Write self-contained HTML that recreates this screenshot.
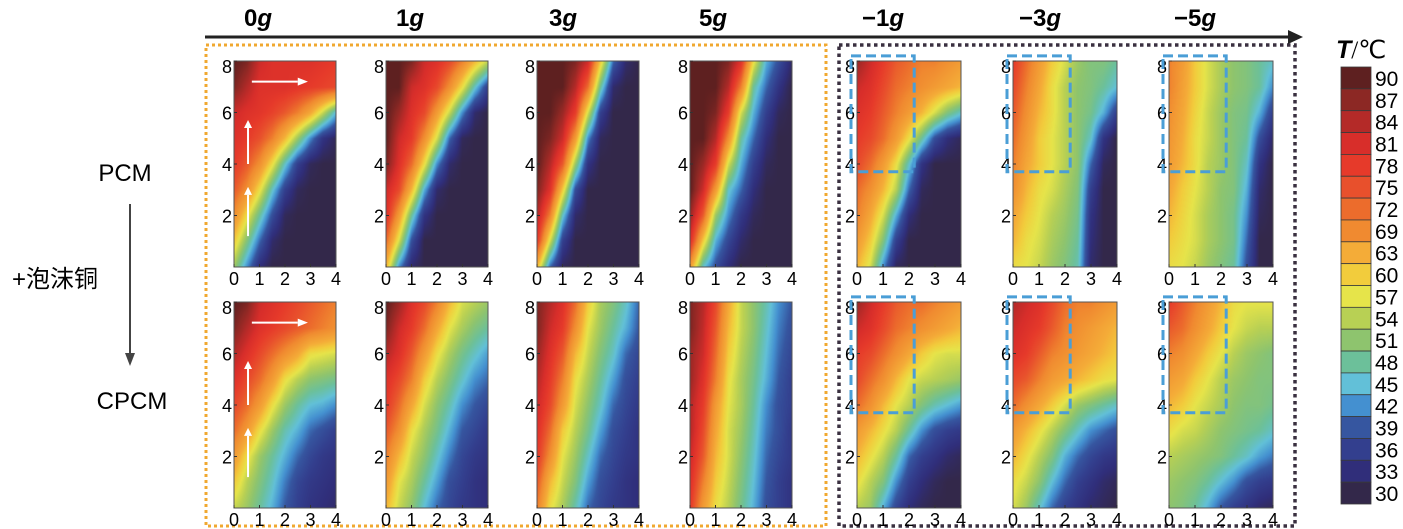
<!DOCTYPE html>
<html><head><meta charset="utf-8">
<style>
html,body{margin:0;padding:0;background:#fff;}
#root{position:relative;width:1403px;height:529px;overflow:hidden;background:#fff;font-family:"Liberation Sans","Noto Sans CJK SC",sans-serif;}
canvas{position:absolute;}
svg{position:absolute;left:0;top:0;}
</style></head>
<body>
<div id="root">
<svg id="ov" width="1403" height="529"></svg>
</div>
<script>
// ---- data ----
const colLabels=['0','1','3','5','\u22121','\u22123','\u22125'];
const xTicks=[0,1,2,3,4];
const yTicks=[2,4,6,8];
const cbLabels=[90,87,84,81,78,75,72,69,63,60,57,54,51,48,45,42,39,36,33,30];
const cmapT=[30,33,36,39,42,45,48,51,54,57,60,63,69,72,75,78,81,84,87,90];
const cmapC=['#33284a','#302e7a','#333f8e','#3656a0','#4490d0','#62c0d8','#6cc09a','#8ec46e','#b8d054','#e6e44a','#f2cc3c','#f4ac38','#f08a30','#ec6c2c','#e8502c','#e63a2a','#d82e2a','#b42a28','#8c2824','#5e2020'];
// grids: rows y=8..0 (top to bottom), cols x=0..4 step 0.5
const pcm0g=[
[90,88,82,80,80,80,80,79,78],[88,84,80,80,80,79,78,77,76],[82,80,79,77,74,70,64,55,45],
[80,78,75,70,62,52,42,34,31],[78,74,68,58,46,36,31,30,30],[74,68,58,46,36,31,30,30,30],
[68,58,48,38,31,30,30,30,30],[60,50,40,32,30,30,30,30,30],[52,42,33,30,30,30,30,30,30]];
const pcm1g=[
[90,90,88,82,80,76,70,62,55],[90,90,82,80,76,68,58,46,36],[90,86,80,76,66,55,42,32,30],
[90,82,78,68,56,40,31,30,30],[88,80,72,58,42,32,30,30,30],[82,76,62,44,32,30,30,30,30],
[80,66,48,34,30,30,30,30,30],[72,56,38,30,30,30,30,30,30],[62,42,32,30,30,30,30,30,30]];
const pcm3g=[
[90,90,90,88,82,60,40,32,30],[90,90,90,84,72,48,32,30,30],[90,90,86,78,56,36,30,30,30],
[90,88,82,66,42,31,30,30,30],[90,84,74,52,34,30,30,30,30],[88,80,60,38,30,30,30,30,30],
[84,70,46,32,30,30,30,30,30],[78,56,36,30,30,30,30,30,30],[62,40,31,30,30,30,30,30,30]];
const pcm5g=[
[90,90,90,88,80,58,44,38,32],[90,90,90,84,70,48,40,34,30],[90,90,88,78,56,44,36,31,30],
[90,90,84,68,48,40,33,30,30],[90,86,78,56,44,36,31,30,30],[90,82,66,46,40,33,30,30,30],
[86,74,52,42,35,31,30,30,30],[80,60,44,37,32,30,30,30,30],[66,46,38,33,30,30,30,30,30]];
const pcmN1g=[
[86,82,78,74,72,70,70,68,66],[82,80,76,72,70,68,66,64,62],[80,78,74,70,66,62,56,50,46],
[78,76,72,66,58,48,38,33,31],[76,72,66,58,46,34,30,30,30],[72,68,62,54,40,31,30,30,30],
[70,64,56,44,33,30,30,30,30],[66,60,50,36,30,30,30,30,30],[62,56,42,31,30,30,30,30,30]];
const pcmN3g=[
[78,72,66,60,56,52,50,50,48],[76,70,64,58,54,51,50,48,45],[74,68,62,58,54,51,49,44,36],
[72,66,60,57,54,51,46,34,30],[70,64,60,57,54,51,40,31,30],[68,62,58,56,53,50,36,30,30],
[64,60,57,54,52,49,34,30,30],[62,58,56,53,51,48,33,30,30],[58,57,55,52,50,47,32,30,30]];
const pcmN5g=[
[70,66,60,56,53,51,50,48,46],[70,65,60,56,53,51,50,48,42],[68,64,59,55,52,50,49,44,36],
[67,63,58,55,52,50,48,38,32],[66,62,58,54,52,50,46,34,30],[64,60,57,54,51,50,44,32,30],
[62,59,56,53,51,49,42,31,30],[60,58,56,53,51,49,40,30,30],[58,57,55,52,50,48,38,30,30]];
const cpcm0g=[
[90,88,82,80,78,76,74,72,70],[88,84,80,78,76,74,72,70,68],[84,80,76,72,68,64,58,57,56],
[80,76,72,66,58,54,51,50,49],[76,72,66,58,52,48,45,44,42],[72,66,58,52,47,44,40,38,36],
[66,58,52,48,44,40,37,35,34],[60,54,50,46,41,37,35,34,33],[55,52,48,44,39,36,34,33,32]];
const cpcm1g=[
[90,86,80,76,70,62,56,54,52],[88,82,78,72,64,57,53,50,48],[84,80,74,66,58,53,49,46,43],
[80,76,70,60,54,50,46,42,40],[78,72,64,56,51,47,42,39,37],[74,68,58,53,49,44,39,37,35],
[70,62,55,51,46,41,37,35,34],[66,57,53,48,43,38,36,34,33],[62,55,51,45,40,37,35,34,33]];
const cpcm3g=[
[88,84,80,72,60,53,50,46,40],[88,82,78,68,57,52,48,44,39],[86,80,74,62,55,50,46,40,37],
[84,78,70,58,53,48,43,38,36],[82,76,66,56,51,46,40,37,35],[80,72,60,54,49,43,38,36,34],
[78,68,57,52,46,40,37,35,34],[74,62,55,50,43,38,36,34,33],[70,58,53,47,40,37,35,34,33]];
const cpcm5g=[
[88,84,76,64,55,51,47,42,39],[88,83,74,62,55,51,46,41,38],[86,82,72,60,54,50,45,40,37],
[86,80,70,58,53,49,44,39,36],[84,78,66,57,53,48,42,38,36],[84,76,64,56,52,47,41,38,35],
[82,74,62,56,51,46,40,37,35],[80,70,60,55,50,45,39,36,34],[78,66,58,54,49,44,38,36,34]];
const cpcmN1g=[
[86,82,78,74,72,72,70,68,66],[82,80,76,72,70,68,66,64,62],[78,76,72,68,64,60,57,56,56],
[76,72,68,62,57,55,54,53,52],[72,68,62,57,54,50,47,45,43],[66,62,58,54,48,42,38,36,35],
[62,58,54,48,40,36,34,32,31],[58,54,50,42,36,33,31,30,30],[54,52,44,37,33,31,30,30,30]];
const cpcmN3g=[
[84,82,80,76,72,70,70,68,66],[82,80,78,74,70,68,66,64,62],[80,78,74,70,68,66,64,62,60],
[76,74,70,66,64,62,60,58,57],[72,68,64,60,56,52,50,48,46],[66,62,58,54,50,46,42,40,38],
[62,58,54,50,44,40,37,35,34],[58,55,51,45,40,36,34,32,31],[56,52,46,40,36,34,32,31,30]];
const cpcmN5g=[
[78,74,70,66,62,58,57,57,57],[74,72,68,64,60,57,55,54,54],[70,68,64,60,57,54,52,51,50],
[66,64,60,57,54,52,51,50,50],[62,60,57,55,53,51,50,50,49],[58,56,55,53,51,50,49,48,46],
[54,53,52,51,50,48,46,43,41],[52,51,50,48,45,42,38,36,35],[51,50,48,44,39,36,34,32,31]];
const topRow=[pcm0g,pcm1g,pcm3g,pcm5g,pcmN1g,pcmN3g,pcmN5g];
const botRow=[cpcm0g,cpcm1g,cpcm3g,cpcm5g,cpcmN1g,cpcmN3g,cpcmN5g];

// ---- layout ----
const lefts=[234,386,537,690,857,1013,1169];
const widths=[102,102,102,102,104,104,104];
const tops=[61,302];
const PH=206;
const titleX=[258,410,563,713,883,1040,1195];

function hex(c){return [parseInt(c.slice(1,3),16),parseInt(c.slice(3,5),16),parseInt(c.slice(5,7),16)];}
const cmapRGB=cmapC.map(hex);
function cmap(t){
  if(t<=cmapT[0])return cmapRGB[0];
  for(let i=1;i<cmapT.length;i++){
    if(t<=cmapT[i]){const f=(t-cmapT[i-1])/(cmapT[i]-cmapT[i-1]);const a=cmapRGB[i-1],b=cmapRGB[i];
      return [a[0]+(b[0]-a[0])*f,a[1]+(b[1]-a[1])*f,a[2]+(b[2]-a[2])*f];}
  }
  return cmapRGB[cmapRGB.length-1];
}
const root=document.getElementById('root');
const ov=document.getElementById('ov');
const NS='http://www.w3.org/2000/svg';
function S(tag,attrs,name,txt){const e=document.createElementNS(NS,tag);for(const k in attrs)e.setAttribute(k,attrs[k]);
  
  
  if(txt!==undefined)e.textContent=txt;ov.appendChild(e);return e;}

function drawPanel(grid,left,top,W,H,name){
  const c=document.createElement('canvas');c.width=W;c.height=H;
  c.style.left=left+'px';c.style.top=top+'px';
  
  
  root.insertBefore(c,ov);
  const ctx=c.getContext('2d');const img=ctx.createImageData(W,H);
  const nr=grid.length,nc=grid[0].length;
  for(let py=0;py<H;py++){
    const gy=py/(H-1)*(nr-1);const r0=Math.min(nr-2,Math.floor(gy));const fy=gy-r0;
    for(let px=0;px<W;px++){
      const gx=px/(W-1)*(nc-1);const c0=Math.min(nc-2,Math.floor(gx));const fx=gx-c0;
      const v=(grid[r0][c0]*(1-fx)+grid[r0][c0+1]*fx)*(1-fy)+(grid[r0+1][c0]*(1-fx)+grid[r0+1][c0+1]*fx)*fy;
      const col=cmap(v);const i=(py*W+px)*4;
      img.data[i]=col[0];img.data[i+1]=col[1];img.data[i+2]=col[2];img.data[i+3]=255;
    }
  }
  ctx.putImageData(img,0,0);
}

// boxes
S('rect',{x:206,y:45,width:620,height:481,fill:'none',stroke:'#f0a830','stroke-width':3,'stroke-dasharray':'3 3'},'orange-group-box');
S('rect',{x:839,y:45,width:456,height:481,fill:'none',stroke:'#3a3040','stroke-width':3.5,'stroke-dasharray':'3.5 3.5'},'dark-group-box');
// top arrow
S('line',{x1:205,y1:37,x2:1290,y2:37,stroke:'#222','stroke-width':3},'gravity-axis-line');
S('polygon',{points:'1288,30 1303,37 1288,44',fill:'#222'},'gravity-axis-arrowhead');

for(let k=0;k<7;k++){
  const W=widths[k],L=lefts[k];
  const t=S('text',{x:titleX[k],y:26,'font-size':24,'font-weight':'bold','text-anchor':'middle','font-family':'Liberation Sans'},'column-title-'+k);
  t.textContent=colLabels[k];
  const g=document.createElementNS(NS,'tspan');g.setAttribute('font-style','italic');g.textContent='g';t.appendChild(g);
  for(let r=0;r<2;r++){
    const T=tops[r];
    drawPanel(r===0?topRow[k]:botRow[k],L,T,W,PH,(r===0?'pcm-':'cpcm-')+'heatmap-'+k);
    S('rect',{x:L,y:T,width:W,height:PH,fill:'none',stroke:'#555','stroke-width':1},'panel-frame');
    xTicks.forEach(v=>{const x=L+v/4*W;
      S('line',{x1:x,y1:T+PH,x2:x,y2:T+PH-3,stroke:'#333'},'x-tick');
      S('text',{x:x,y:T+PH+18,'font-size':18,'text-anchor':'middle'},'x-tick-label',String(v));});
    yTicks.forEach(v=>{const y=T+(8-v)/8*PH;
      S('line',{x1:L,y1:y,x2:L+3,y2:y,stroke:'#333'},'y-tick');
      S('text',{x:L-2,y:y+(v===8?12:7),'font-size':18,'text-anchor':'end'},'y-tick-label',String(v));});
    if(k>=4){
      const x2=L+2.2/4*W,y1=T+(8-8.2)/8*PH,y2=T+(8-3.7)/8*PH;
      S('rect',{x:L-6,y:y1,width:x2-(L-6),height:y2-y1,fill:'none',stroke:'#4a9ed6','stroke-width':3,'stroke-dasharray':'10 5'},'highlight-box');
    }
    if(k===0){
      const X=v=>L+v/4*W,Y=v=>T+(8-v)/8*PH;
      S('line',{x1:X(0.7),y1:Y(7.2),x2:X(2.5),y2:Y(7.2),stroke:'#fff','stroke-width':2},'flow-arrow');
      S('polygon',{points:`${X(2.5)},${Y(7.2)-4} ${X(2.9)},${Y(7.2)} ${X(2.5)},${Y(7.2)+4}`,fill:'#fff'},'flow-arrowhead');
      [[4,5.4],[1.2,2.8]].forEach(p=>{
        S('line',{x1:X(0.55),y1:Y(p[0]),x2:X(0.55),y2:Y(p[1]),stroke:'#fff','stroke-width':2},'flow-arrow');
        S('polygon',{points:`${X(0.55)-4},${Y(p[1])} ${X(0.55)},${Y(p[1])-8} ${X(0.55)+4},${Y(p[1])}`,fill:'#fff'},'flow-arrowhead');
      });
    }
  }
}
// left labels
S('text',{x:125,y:181,'font-size':24,'text-anchor':'middle'},'pcm-row-label','PCM');
S('text',{x:132,y:409,'font-size':24,'text-anchor':'middle'},'cpcm-row-label','CPCM');
S('text',{x:55,y:287,'font-size':24,'text-anchor':'middle','font-family':'Liberation Sans, Noto Sans CJK SC, sans-serif'},'copper-foam-label','+泡沫铜');
S('line',{x1:130,y1:204,x2:130,y2:355,stroke:'#444','stroke-width':2},'row-arrow-line');
S('polygon',{points:'125,353 130,366 135,353',fill:'#444'},'row-arrow-head');
// colorbar
const cbTop=67,cbBot=504,cbX=1341,cbW=30,seg=(cbBot-cbTop)/cbLabels.length;
const tt=S('text',{x:1336,y:58,'font-size':25,'font-family':'Liberation Serif'},'colorbar-title');
const ti=document.createElementNS(NS,'tspan');ti.setAttribute('font-style','italic');ti.setAttribute('font-weight','bold');ti.setAttribute('font-family','Liberation Sans');ti.textContent='T';tt.appendChild(ti);
const t2=document.createElementNS(NS,'tspan');t2.textContent='/\u2103';tt.appendChild(t2);
cbLabels.forEach((v,i)=>{
  const c=cmap(v);const y=cbTop+i*seg;
  S('rect',{x:cbX,y:y,width:cbW,height:seg,fill:`rgb(${c[0]|0},${c[1]|0},${c[2]|0})`,stroke:'#3a3a3a','stroke-width':0.8},'colorbar-segment');
  S('text',{x:cbX+cbW+4,y:y+seg/2+8,'font-size':21},'colorbar-label',String(v));
});
</script>
</body></html>
